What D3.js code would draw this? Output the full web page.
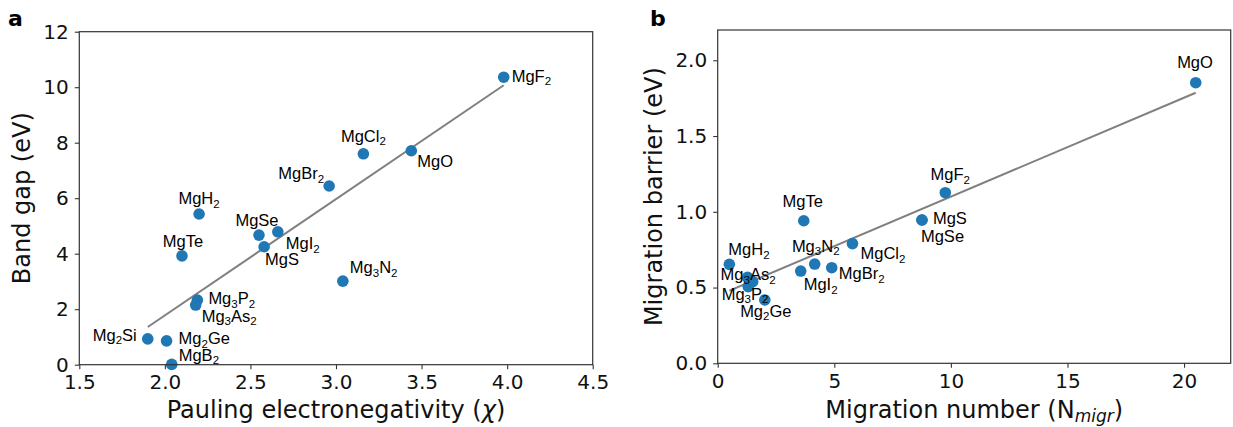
<!DOCTYPE html>
<html>
<head>
<meta charset="utf-8">
<script src="https://cdn.jsdelivr.net/npm/d3@7/dist/d3.min.js"></script>
<style>
  html, body { margin: 0; padding: 0; background: #fff; }
  svg { display: block; }
</style>
</head>
<body>
<svg id="chart" width="1233" height="427"></svg>
<script>
// ---------------- Data ----------------
// Panel a: band gap vs Pauling electronegativity
const aNames = ["MgF2","MgO","MgCl2","MgBr2","MgH2","MgSe","MgI2","MgS","MgTe","Mg3N2","Mg3P2","Mg3As2","Mg2Si","Mg2Ge","MgB2"];
const aChi   = [3.98, 3.44, 3.16, 2.96, 2.20, 2.55, 2.66, 2.58, 2.10, 3.04, 2.19, 2.18, 1.90, 2.01, 2.04];
const aGap   = [10.36, 7.71, 7.60, 6.44, 5.43, 4.67, 4.79, 4.25, 3.92, 3.01, 2.33, 2.15, 0.93, 0.86, 0.01];
const aFitX  = [1.90, 3.98];
const aFitY  = [1.36, 10.07];
const aXTicks = [1.5, 2.0, 2.5, 3.0, 3.5, 4.0, 4.5];
const aYTicks = [0, 2, 4, 6, 8, 10, 12];

// Panel b: migration barrier vs migration number
const bNames   = ["MgO","MgF2","MgS","MgSe","MgTe","MgCl2","Mg3N2","MgBr2","MgI2","MgH2","Mg3As2","Mg3P2","Mg2Ge","Mg2Si"];
const bN       = [20.5, 9.76, 8.76, 8.76, 3.69, 5.78, 4.16, 4.89, 3.56, 0.50, 1.28, 1.31, 2.02, 1.50];
const bBarrier = [1.852, 1.126, 0.946, 0.946, 0.941, 0.790, 0.655, 0.631, 0.609, 0.653, 0.567, 0.506, 0.418, 0.539];
const bFitX  = [0.5, 20.5];
const bFitY  = [0.479, 1.786];
const bXTicks = [0, 5, 10, 15, 20];
const bYTicks = [0.0, 0.5, 1.0, 1.5, 2.0];

// ---------------- Layout (label placement) ----------------
const aLabelPos = {
  MgF2:["start",8,4.5], MgO:["start",6,16], MgCl2:["middle",0,-12], MgBr2:["end",-5,-6.7],
  MgH2:["middle",0,-10], MgSe:["middle",-2,-9], MgI2:["start",8,17.6], MgS:["start",1,18],
  MgTe:["middle",1,-9.3], Mg3N2:["start",7,-8], Mg3P2:["start",11,4.3], Mg3As2:["start",6,16.7],
  Mg2Si:["end",-11,1.7], Mg2Ge:["start",12,3.3], MgB2:["start",7,-3.7]
};
const bLabelPos = {
  MgO:["middle",-0.7,-14.4], MgF2:["middle",5,-12.7], MgS:["start",11,4.3], MgSe:["start",-1,21.7],
  MgTe:["middle",-1,-13.3], MgCl2:["start",8,15.7], Mg3N2:["middle",1,-12.3], MgBr2:["start",7,11.3],
  MgI2:["start",3,19], MgH2:["start",-1,-9.3], Mg3As2:["start",-27,2.7], Mg3P2:["start",-26.6,13.3],
  Mg2Ge:["middle",1,16.7], Mg2Si:null
};

const svg = d3.select("#chart");
const BLUE = "#1f77b4";
const TICKFONT = "DejaVu Sans";
const LABFONT = "'Liberation Sans', Arial, sans-serif";

function addChem(sel, name) {
  const parts = name.match(/[A-Za-z]+|[0-9]+/g) || [];
  let shifted = false;
  parts.forEach(p => {
    if (/^[0-9]+$/.test(p)) {
      sel.append("tspan").attr("font-size", 11.5).attr("dy", 3.5).text(p);
      shifted = true;
    } else {
      const t = sel.append("tspan").text(p);
      if (shifted) { t.attr("dy", -3.5); shifted = false; }
    }
  });
}

function panel(cfg) {
  const g = svg.append("g");
  const x = d3.scaleLinear().domain(cfg.xDomain).range([cfg.left, cfg.right]);
  const y = d3.scaleLinear().domain(cfg.yDomain).range([cfg.bottom, cfg.top]);

  const xAxis = d3.axisBottom(x).tickValues(cfg.xTicks).tickFormat(cfg.xFmt).tickSizeInner(4.5).tickSizeOuter(0).tickPadding(6);
  const yAxis = d3.axisLeft(y).tickValues(cfg.yTicks).tickFormat(cfg.yFmt).tickSizeInner(4.5).tickSizeOuter(0).tickPadding(6);
  const gx = g.append("g").attr("transform", `translate(0,${cfg.bottom})`).call(xAxis);
  const gy = g.append("g").attr("transform", `translate(${cfg.left},0)`).call(yAxis);
  [gx, gy].forEach(a => {
    a.select(".domain").remove();
    a.selectAll(".tick line").attr("stroke", "#333").attr("stroke-width", 1.1);
    a.selectAll(".tick text").attr("font-family", TICKFONT).attr("font-size", 20).attr("fill", "#111");
  });

  const lineData = cfg.fitX.map((v, i) => [v, cfg.fitY[i]]);
  g.append("path").datum(lineData)
    .attr("d", d3.line().x(d => x(d[0])).y(d => y(d[1])))
    .attr("stroke", "#808080").attr("stroke-width", 2).attr("fill", "none");

  const pts = cfg.xs.map((v, i) => ({ name: cfg.names[i], x: v, y: cfg.ys[i] }));
  g.append("g").selectAll("circle").data(pts).join("circle")
    .attr("cx", d => x(d.x)).attr("cy", d => y(d.y)).attr("r", 5.8).attr("fill", BLUE);

  pts.forEach(d => {
    const lp = cfg.labelPos[d.name];
    if (!lp) return;
    const t = g.append("text")
      .attr("x", x(d.x) + lp[1]).attr("y", y(d.y) + lp[2])
      .attr("text-anchor", lp[0])
      .attr("font-family", LABFONT).attr("font-size", 16.5).attr("fill", "#000");
    addChem(t, d.name);
  });

  g.append("rect").attr("x", cfg.left).attr("y", cfg.top)
    .attr("width", cfg.right - cfg.left).attr("height", cfg.bottom - cfg.top)
    .attr("fill", "none").attr("stroke", "#333").attr("stroke-width", 1.2);

  const xl = g.append("text").attr("x", (cfg.left + cfg.right) / 2).attr("y", 418)
    .attr("text-anchor", "middle").attr("font-family", TICKFONT).attr("font-size", 24).attr("fill", "#111");
  cfg.xLabel(xl);
  g.append("text").attr("transform", `translate(${cfg.yLabelX},${(cfg.top + cfg.bottom) / 2}) rotate(-90)`)
    .attr("text-anchor", "middle").attr("font-family", TICKFONT).attr("font-size", 24).attr("fill", "#111")
    .text(cfg.yLabel);

  g.append("text").attr("x", cfg.letterX).attr("y", 26)
    .attr("font-family", TICKFONT).attr("font-weight", "bold").attr("font-size", 22).attr("fill", "#000")
    .text(cfg.letter);
}

panel({
  left: 79.3, right: 592.7, top: 31.7, bottom: 364.7,
  xDomain: [1.5, 4.5], yDomain: [0, 12],
  xTicks: aXTicks, yTicks: aYTicks,
  xFmt: d3.format(".1f"), yFmt: d3.format("d"),
  xs: aChi, ys: aGap, names: aNames, labelPos: aLabelPos,
  fitX: aFitX, fitY: aFitY,
  xLabel: t => { t.append("tspan").text("Pauling electronegativity ("); t.append("tspan").attr("font-style", "italic").text("χ"); t.append("tspan").text(")"); },
  yLabel: "Band gap (eV)", yLabelX: 30,
  letter: "a", letterX: 8
});

panel({
  left: 717.7, right: 1230.7, top: 30, bottom: 363.3,
  xDomain: [0, 22], yDomain: [0, 2.2],
  xTicks: bXTicks, yTicks: bYTicks,
  xFmt: d3.format("d"), yFmt: d3.format(".1f"),
  xs: bN, ys: bBarrier, names: bNames, labelPos: bLabelPos,
  fitX: bFitX, fitY: bFitY,
  xLabel: t => { t.append("tspan").text("Migration number (N"); t.append("tspan").attr("font-style", "italic").attr("font-size", 17).attr("dy", 4).text("migr"); t.append("tspan").attr("dy", -4).text(")"); },
  yLabel: "Migration barrier (eV)", yLabelX: 662,
  letter: "b", letterX: 650
});
</script>
</body>
</html>
